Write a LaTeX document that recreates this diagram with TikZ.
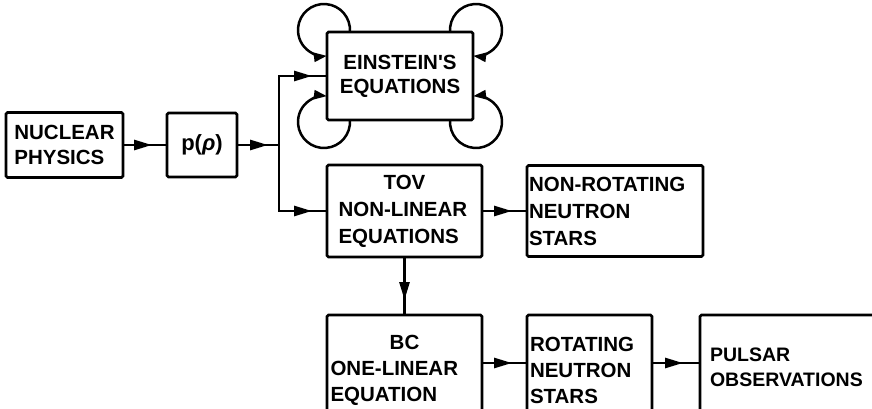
\documentclass[tikz,border=0pt]{standalone}
\usepackage{fontspec}
\setmainfont{Liberation Sans}
\usetikzlibrary{arrows.meta,decorations.markings}

\tikzset{
  wire/.style={line width=2.7pt},
  box/.style={draw, line width=2.7pt, rounded corners=1.5pt, inner sep=0pt, outer sep=0pt,
    align=left, font=\fontsize{20.5}{26}\selectfont\bfseries},
  midtip/.style={wire, postaction={decorate},
    decoration={markings, mark=at position #1 with {\arrow{Triangle[length=18pt,width=10pt]}}}},
  flow/.style={midtip=-15pt},
  selfloop/.style={line width=2.5pt, -{Triangle[length=13pt,width=9pt]}},
}

\begin{document}
\begin{tikzpicture}[x=1pt, y=1pt]
  \clip (0,0) rectangle (872,-409);

  % boxes
  \node[box, minimum width=117pt, minimum height=65pt, font=\fontsize{20.5}{25}\selectfont\bfseries]
    (nuc) at (64.5,-145) {NUCLEAR\\PHYSICS};
  \node[box, minimum width=70pt, minimum height=64pt, font=\fontsize{22}{26}\selectfont\bfseries]
    (p) at (202,-145) {p(\textit{ρ})};
  \node[box, minimum width=146pt, minimum height=88pt, align=center,
    font=\fontsize{20.5}{24}\selectfont\bfseries]
    (ein) at (400,-76) {EINSTEIN\textquotesingle S\\EQUATIONS};
  \node[box, minimum width=155pt, minimum height=92pt, text width=132pt,
    font=\fontsize{20.5}{27}\selectfont\bfseries]
    (tov) at (404.5,-211) {\makebox[\linewidth]{TOV}\\NON-LINEAR\\EQUATIONS};
  \node[box, minimum width=176pt, minimum height=91pt, text width=172pt,
    font=\fontsize{20.5}{27}\selectfont\bfseries]
    (nr) at (615,-211) {NON-ROTATING\\NEUTRON\\STARS};
  \node[box, minimum width=155pt, minimum height=110pt, text width=148pt]
    (bc) at (404.5,-370) {\makebox[\linewidth]{BC}\\ONE-LINEAR\\EQUATION};
  \node[box, minimum width=125pt, minimum height=110pt, text width=119pt]
    (rot) at (589.5,-370) {ROTATING\\NEUTRON\\STARS};
  \node[box, minimum width=180pt, minimum height=104pt, text width=160pt,
    font=\fontsize{19.5}{25}\selectfont\bfseries]
    (pul) at (790,-367) {PULSAR\\OBSERVATIONS};

  % self-coupling loops round the corners of the field equations
  \draw[selfloop] ([xshift=22.9pt]ein.north west) arc[start angle=-4.4, end angle=276.6, radius=26pt];
  \draw[selfloop] ([xshift=-22.9pt]ein.north east) arc[start angle=184.4, end angle=-96.6, radius=26pt];
  \draw[selfloop] ([xshift=22.9pt]ein.south west) arc[start angle=4.4, end angle=-276.6, radius=26pt];
  \draw[selfloop] ([xshift=-22.9pt]ein.south east) arc[start angle=175.6, end angle=456.6, radius=26pt];

  % branching point after the equation of state
  \coordinate (jm) at (279,-145);
  \coordinate (jt) at (279,-76);
  \coordinate (jb) at (279,-211);
  \coordinate (row) at (0,-363);

  \draw[wire, line cap=rect] (jt) -- (jb);
  \draw[flow] (nuc) -- (p);
  \draw[midtip=-11pt] (p) -- (jm);
  \draw[flow] (jt) -- (ein);
  \draw[flow] (jb) -- (tov);
  \draw[flow] (tov) -- (nr);
  \draw[flow] (tov) -- (bc);
  \draw[flow] (bc.east |- row) -- (rot.west |- row);
  \draw[midtip=-17pt] (rot.east |- row) -- (pul.west |- row);
\end{tikzpicture}
\end{document}
